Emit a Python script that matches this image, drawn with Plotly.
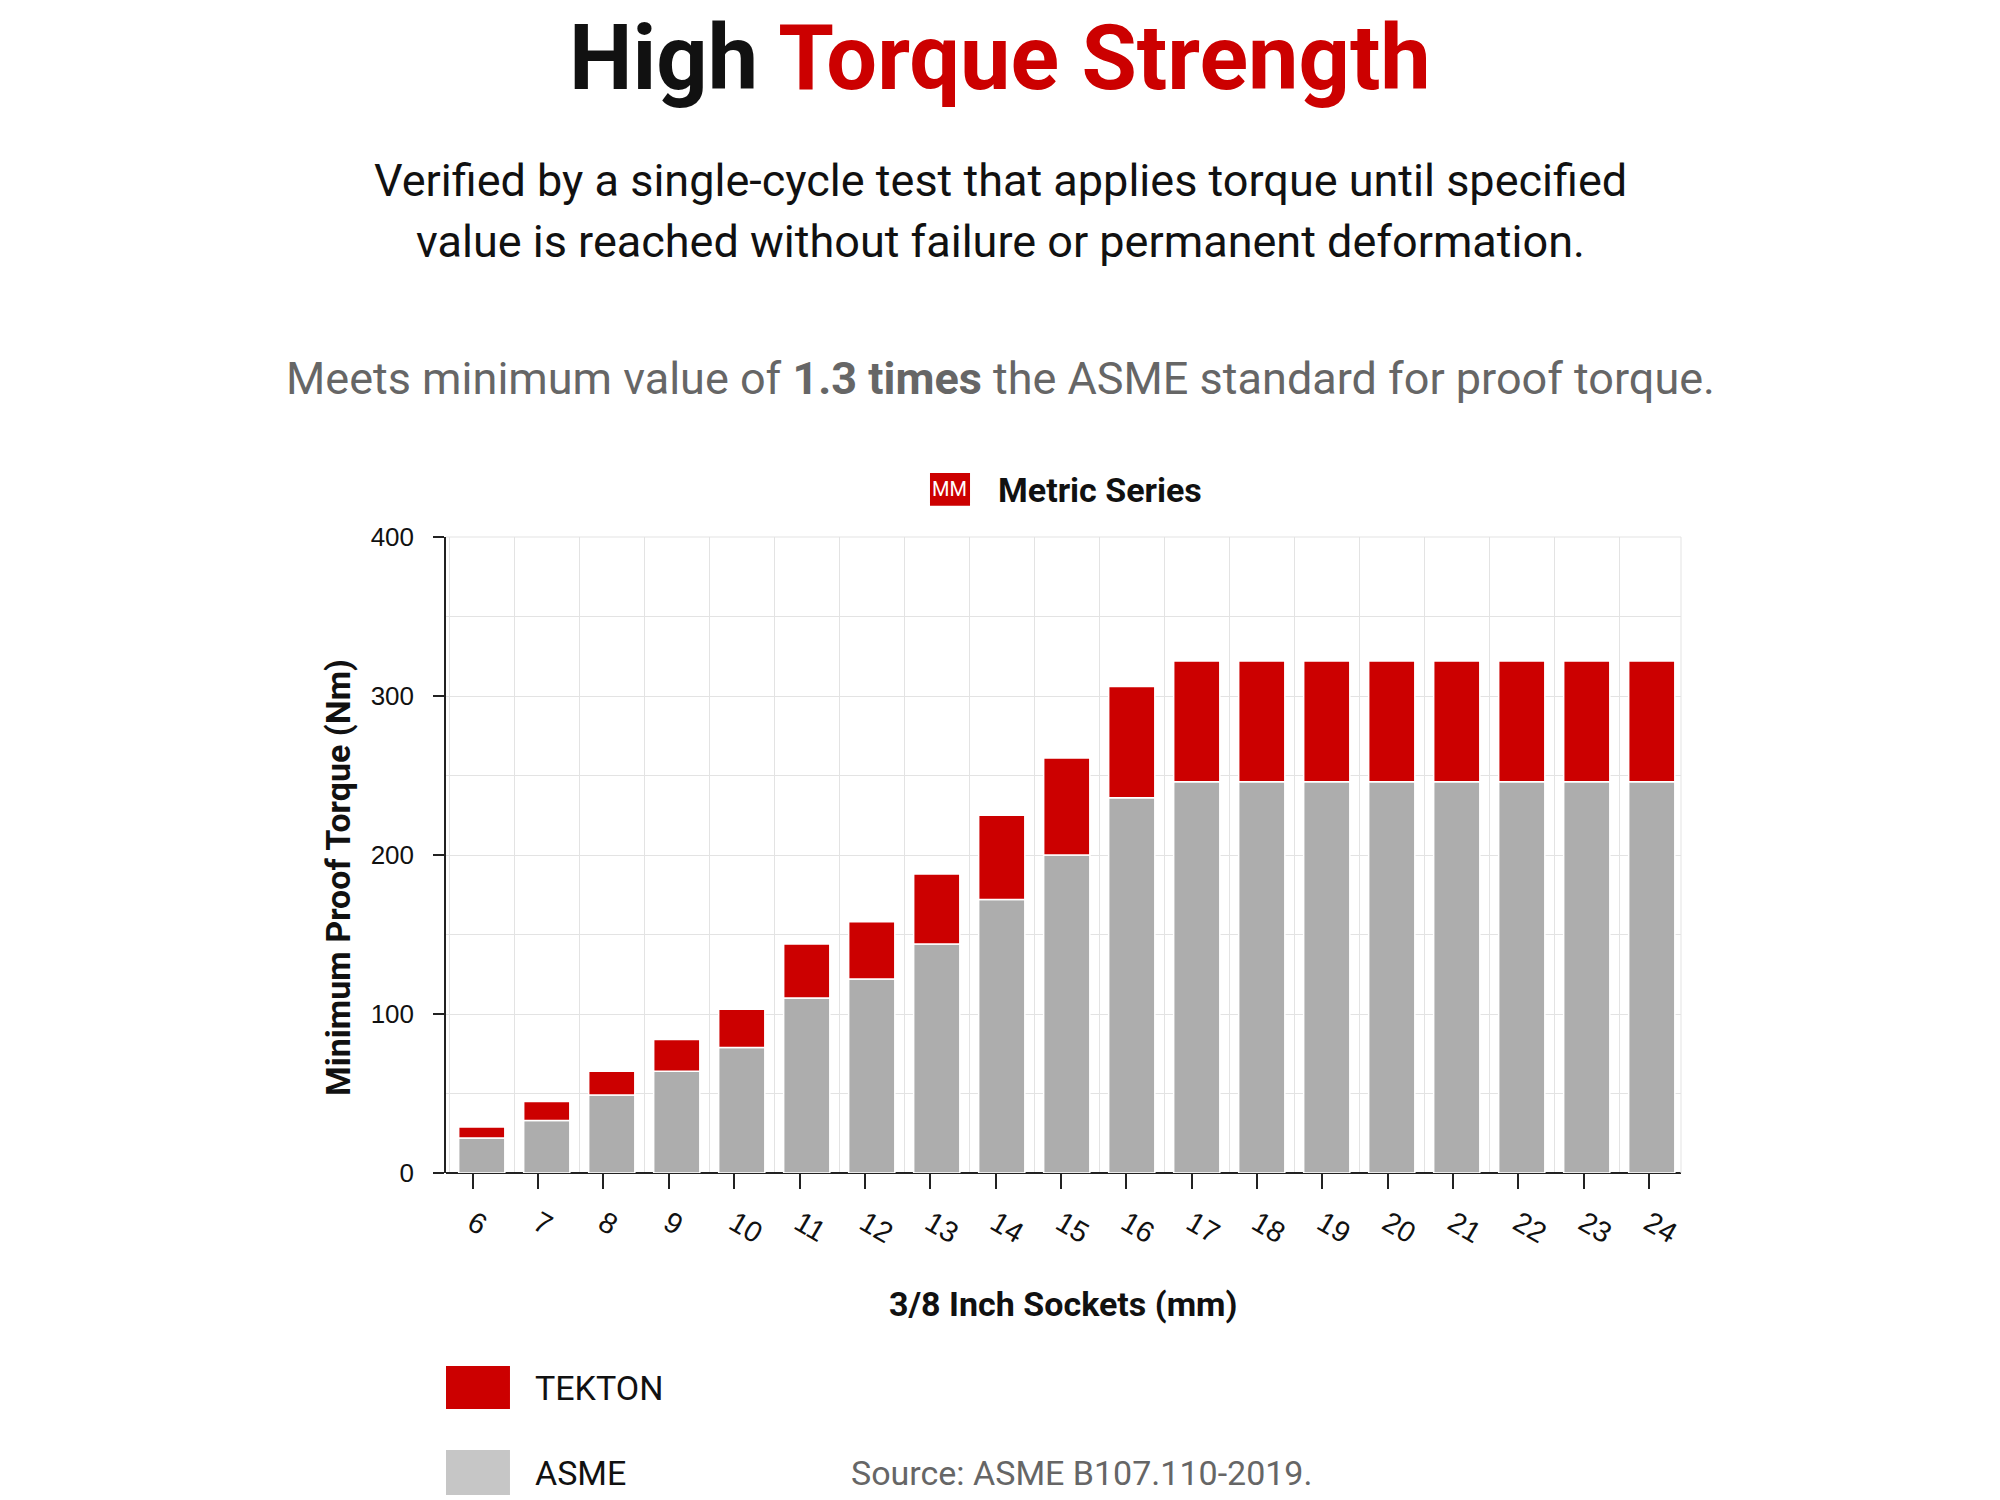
import plotly.graph_objects as go

# 3/8 inch drive metric sockets, minimum proof torque (Nm)
sizes = ["6", "7", "8", "9", "10", "11", "12", "13", "14", "15",
         "16", "17", "18", "19", "20", "21", "22", "23", "24"]
asme = [22, 33, 49, 64, 79, 110, 122, 144, 172, 200,
        236, 246, 246, 246, 246, 246, 246, 246, 246]
tekton = [29, 45, 64, 84, 103, 144, 158, 188, 225, 261,
          306, 322, 322, 322, 322, 322, 322, 322, 322]
y_ticks = [0, 100, 200, 300, 400]

RED = "#cc0000"
GREY = "#adadad"
LEGEND_GREY = "#c6c6c6"
FONT = "Roboto"

fig = go.Figure()
fig.add_trace(go.Bar(
    x=sizes, y=asme, name="ASME",
    marker=dict(color=GREY, line=dict(color="white", width=1.5)),
    showlegend=False,
))
fig.add_trace(go.Bar(
    x=sizes, y=[t - a for t, a in zip(tekton, asme)], base=asme, name="TEKTON",
    marker=dict(color=RED, line=dict(color="white", width=1.5)),
    showlegend=False,
))
# invisible helper so the tick axis (xaxis2) gets drawn
fig.add_trace(go.Scatter(
    x=list(range(len(sizes))), y=asme, xaxis="x2", yaxis="y",
    mode="markers", marker=dict(opacity=0), hoverinfo="skip", showlegend=False,
))

fig.update_layout(
    width=2000, height=1500,
    margin=dict(l=438, r=327, t=529, b=335),
    paper_bgcolor="white", plot_bgcolor="white",
    barmode="overlay", bargap=0.29,
    font=dict(family=FONT, color="#111111"),
    xaxis=dict(
        type="category", range=[-0.55, 18.45],
        tickson="boundaries", showgrid=True, gridcolor="#e3e3e3", gridwidth=1,
        ticks="", showticklabels=False, showline=False, zeroline=False,
    ),
    xaxis2=dict(
        type="linear", overlaying="x", anchor="y", side="bottom",
        range=[-0.41, 18.49], tickmode="array",
        tickvals=list(range(len(sizes))), ticktext=sizes,
        ticks="outside", ticklen=15, tickwidth=1.5, tickcolor="#222",
        ticklabelstandoff=6,
        tickangle=30, tickfont=dict(family="Liberation Sans", size=29, color="#111"),
        showgrid=False, zeroline=False, showline=False,
    ),
    yaxis=dict(
        range=[0, 400], tickmode="array", tickvals=y_ticks,
        ticks="outside", ticklen=11, tickwidth=1.5, tickcolor="#222",
        ticklabelstandoff=14,
        tickfont=dict(family="Liberation Sans", size=26, color="#111"),
        showgrid=True, gridcolor="#e3e3e3",
        minor=dict(dtick=50, showgrid=True, gridcolor="#e3e3e3"),
        showline=True, linecolor="#222", linewidth=1.5,
        zeroline=True, zerolinecolor="#222", zerolinewidth=1.5,
    ),
)

# frame line on the right / top of the plot area
fig.add_shape(type="line", xref="paper", yref="paper", x0=1, x1=1, y0=0, y1=1,
              line=dict(color="#e3e3e3", width=1))
fig.add_shape(type="line", xref="paper", yref="paper", x0=0, x1=1, y0=1, y1=1,
              line=dict(color="#e3e3e3", width=1))


def note(text, x, y, size, color="#111111", xanchor="center", **kw):
    fig.add_annotation(text=text, x=x, y=y, xref="paper", yref="paper",
                       xanchor=xanchor, yanchor="middle", showarrow=False,
                       font=dict(family=FONT, size=size, color=color), **kw)


note("<b>High <span style='color:%s'>Torque Strength</span></b>" % RED, 0.4486, 1.752, 90)
note("Verified by a single-cycle test that applies torque until specified", 0.4486, 1.560, 45)
note("value is reached without failure or permanent deformation.", 0.4486, 1.464, 45)
note("Meets minimum value of <b>1.3 times</b> the ASME standard for proof torque.",
     0.4486, 1.250, 45, color="#666666")

# series badge
fig.add_shape(type="rect", xref="paper", yref="paper", x0=0.3927, x1=0.4235,
              y0=1.0508, y1=1.099, fillcolor=RED, line=dict(color=RED, width=2))
note("MM", 0.408, 1.075, 20, color="white")
note("<b>Metric Series</b>", 0.4453, 1.074, 34, xanchor="left")

# axis titles
note("<b>Minimum Proof Torque (Nm)</b>", -0.0874, 0.464, 34, textangle=-90)
note("<b>3/8 Inch Sockets (mm)</b>", 0.4996, -0.206, 34)

# legend
fig.add_shape(type="rect", xref="paper", yref="paper", x0=0.0, x1=0.0518,
              y0=-0.371, y1=-0.3035, fillcolor=RED, line=dict(width=0))
fig.add_shape(type="rect", xref="paper", yref="paper", x0=0.0, x1=0.0518,
              y0=-0.5063, y1=-0.4355, fillcolor=LEGEND_GREY, line=dict(width=0))
note("TEKTON", 0.0704, -0.338, 34, xanchor="left")
note("ASME", 0.0704, -0.4717, 34, xanchor="left")
note("Source: ASME B107.110-2019.", 0.3263, -0.4717, 34, color="#666666", xanchor="left")

fig.write_html("out.html")
